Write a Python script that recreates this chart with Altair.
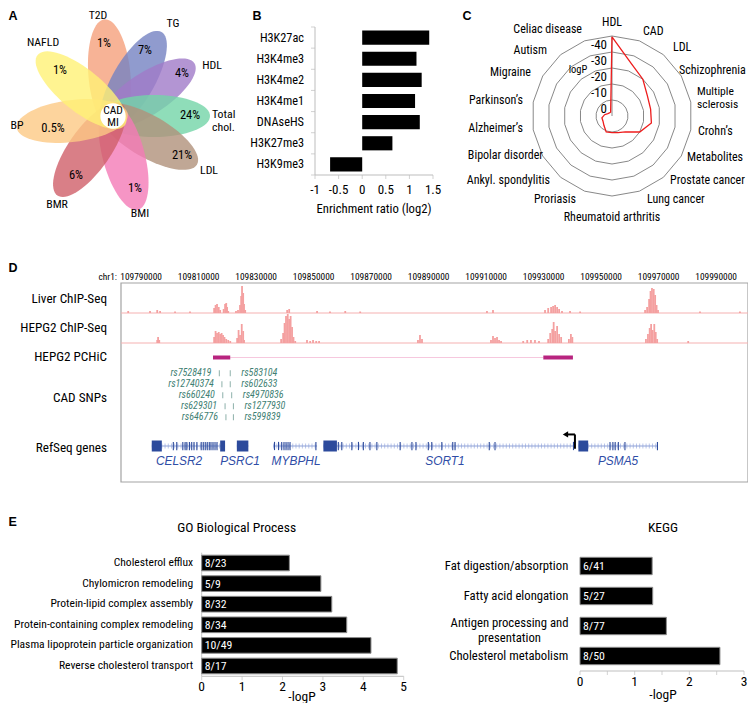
import math
import numpy as np
import pandas as pd
import altair as alt

# ---------------- page mapping (reference pixel -> canvas pixel) ----------------
OX, OY = 8, 8
W, H = 740, 695


def X(v):
    return v - OX


def Y(v):
    return v - OY


FN = "Roboto Condensed, Liberation Sans, Arial, sans-serif"
FR = "Liberation Sans, Arial, Helvetica, sans-serif"

# =============================== DATA ===============================
# --- A: overlap of CAD/MI loci with other traits
A_SETS = ["T2D", "TG", "HDL", "Total\nchol.", "LDL", "BMI", "BMR", "BP", "NAFLD"]
A_SHARE = ["1%", "7%", "4%", "24%", "21%", "1%", "6%", "0.5%", "1%"]
A_COLOR = ["#f5a07c", "#7482c2", "#a07ac8", "#73d5a8", "#b0917b",
           "#f47ab6", "#cf5f69", "#fdc985", "#fff176"]
A_DIR = [355, 30, 57, 90, 120, 165, 215, 263, 309]   # petal direction (deg, clockwise from top)

# --- B: enrichment of chromatin marks
B_MARKS = ["H3K27ac", "H3K4me3", "H3K4me2", "H3K4me1", "DNAseHS", "H3K27me3", "H3K9me3"]
B_RATIO = [1.42, 1.15, 1.26, 1.12, 1.22, 0.64, -0.68]
B_TICKS = [-1, -0.5, 0, 0.5, 1, 1.5]

# --- C: radar of logP per trait
C_CATS = ["HDL", "CAD", "LDL", "Schizophrenia", "Multiple sclerosis", "Crohn’s",
          "Metabolites", "Prostate cancer", "Lung cancer", "Rheumatoid arthritis",
          "Proriasis", "Ankyl. spondylitis", "Bipolar disorder", "Alzheimer’s",
          "Parkinson’s", "Migraine", "Autism", "Celiac disease"]
C_LOGP = [-39.5, -25, -20, -15.5, -14.5, -15, -10, -3, -1, -0.4, -0.6,
          2.2, 3.5, 3.6, 5.3, 7, 7.5, 7.5]
C_RINGS = [0, -10, -20, -30, -40]
C_AXIS_CENTER, C_AXIS_OUTER = 10, -40

# --- D: locus view chr1 (positions in kb)
D_TICKS = [109790, 109810, 109830, 109850, 109870, 109890, 109910, 109930, 109950, 109970, 109990]
LIVER_POS = [109785.5, 109793.1, 109795.6, 109796.6, 109801.8, 109807.0,
             109815.4, 109815.9, 109816.4, 109817.0, 109817.5,
             109818.7, 109819.2, 109819.6, 109819.9, 109820.3,
             109823.0, 109823.7, 109824.4, 109824.8, 109825.1, 109825.5, 109825.8, 109826.2,
             109840.8, 109841.5, 109851.2, 109855.7, 109861.0, 109866.2,
             109910.3, 109912.4,
             109930.5, 109931.6, 109932.6, 109933.3, 109934.0, 109934.7, 109935.4, 109936.4, 109939.2, 109942.7,
             109965.3, 109966.0, 109966.7, 109967.2, 109967.7, 109968.3, 109968.8, 109969.3, 109969.8,
             109984.4, 109998.3]
LIVER_SIG = [2, 2, 3, 2, 1.5, 1.5,
             5, 8, 9, 6, 3,
             4, 9, 10, 6, 2,
             2, 3, 8, 17, 27, 20, 9, 3,
             3, 4, 2, 1.5, 2, 1.5,
             2, 3,
             3, 5, 6, 7, 8, 6, 4, 2, 2, 1.5,
             3, 6, 14, 22, 25, 24, 18, 8, 3,
             1.5, 1.5]
HEPG2_POS = [109795.6, 109795.9, 109796.3,
             109815.4, 109815.9, 109816.4, 109817.0, 109817.5, 109818.0, 109818.5, 109819.0, 109819.6, 109820.3, 109821.0,
             109823.4, 109823.9, 109824.4, 109825.0, 109825.5, 109825.8,
             109838.7, 109839.4, 109839.9, 109840.4, 109841.0, 109841.5, 109842.0, 109842.5, 109843.0, 109843.6,
             109847.7, 109848.8, 109849.8, 109850.9, 109851.9,
             109886.3, 109887.0, 109887.7,
             109911.7, 109912.4, 109913.1, 109913.8, 109914.5, 109915.2,
             109922.9, 109924.3, 109925.6, 109927.0, 109928.4,
             109931.6, 109932.3, 109933.0, 109933.5, 109934.0, 109934.7, 109935.4, 109936.1,
             109938.8, 109939.5, 109940.0,
             109965.6, 109966.3, 109966.9, 109967.4, 109967.9, 109968.5, 109969.0, 109969.5,
             109980.3]
HEPG2_SIG = [3, 6, 3,
             6, 12, 10, 11, 9, 10, 8, 6, 4, 3, 2,
             5, 13, 8, 19, 12, 3,
             4, 10, 20, 27, 29, 24, 27, 16, 6, 2,
             3, 2, 3, 2, 2,
             3, 8, 4,
             3, 7, 5, 6, 3, 2,
             2, 3, 3, 3, 2,
             4, 10, 14, 21, 12, 17, 9, 6,
             4, 9, 6,
             4, 9, 15, 19, 13, 19, 11, 4,
             2]
PCHIC_START = [109815.0, 109929.9]
PCHIC_END = [109821.0, 109940.2]
SNP_LEFT = ["rs7528419", "rs12740374", "rs660240", "rs629301", "rs646776"]
SNP_LEFT_POS = [109817.2, 109818.1, 109818.4, 109819.2, 109819.5]
SNP_RIGHT = ["rs583104", "rs602633", "rs4970836", "rs1277930", "rs599839"]
SNP_RIGHT_POS = [109821.0, 109821.0, 109821.5, 109822.1, 109822.1]
GENE_NAMES = ["CELSR2", "PSRC1", "MYBPHL", "SORT1", "PSMA5"]
GENE_START = [109793.7, 109823.3, 109835.9, 109853.4, 109942.1]
GENE_END = [109819.2, 109827.3, 109851.2, 109940.9, 109969.6]
GENE_LABEL_AT = [109803.2, 109824.4, 109843.9, 109895.7, 109955.9]
BLOCK_START = [109793.7, 109817.5, 109823.3, 109853.4, 109942.1]
BLOCK_END = [109797.2, 109819.2, 109827.3, 109858.1, 109945.5]
EXONS = [109801.2, 109802.4, 109804.5, 109805.3, 109805.9, 109806.8, 109807.6, 109808.4,
         109809.4, 109810.9, 109811.6, 109812.3, 109813.0, 109813.7, 109814.3, 109815.0,
         109815.7, 109816.4,
         109836.4, 109837.8, 109838.9, 109839.7, 109840.4, 109841.1, 109841.8, 109850.8,
         109858.6, 109859.8, 109863.3, 109865.6, 109867.3, 109869.6, 109872.0, 109880.1,
         109884.2, 109885.6, 109889.9, 109891.1, 109894.6, 109898.4, 109899.2, 109911.1,
         109913.1, 109940.4,
         109953.1, 109954.1, 109954.9, 109956.0, 109958.3, 109969.6]
SORT1_TSS = 109940.9

# --- E: enrichment
GO_TERMS = ["Cholesterol efflux", "Chylomicron remodeling", "Protein-lipid complex assembly",
            "Protein-containing complex remodeling", "Plasma lipoprotein particle organization",
            "Reverse cholesterol transport"]
GO_LOGP = [2.17, 2.95, 3.22, 3.59, 4.19, 4.84]
GO_COUNT = ["8/23", "5/9", "8/32", "8/34", "10/49", "8/17"]
GO_TICKS = [0, 1, 2, 3, 4, 5]
KEGG_TERMS = ["Fat digestion/absorption", "Fatty acid elongation",
              "Antigen processing and\npresentation", "Cholesterol metabolism"]
KEGG_LOGP = [1.32, 1.33, 1.58, 2.56]
KEGG_COUNT = ["6/41", "5/27", "8/77", "8/50"]
KEGG_TICKS = [0, 0.5, 1, 1.5, 2, 2.5, 3]
KEGG_LABELED = [0, 1, 2, 3]

# =============================== HELPERS ===============================
L = []


def lin(dom, a, b):
    return alt.Scale(domain=list(dom), range=[a, b], nice=False, zero=False)


def text_layer(rows, size=12, align="center", font=FN, weight="normal", color="black",
               style="normal", lh=None, baseline="middle"):
    df = pd.DataFrame(rows, columns=["t", "px", "py"])
    df["px"] = df["px"] - OX
    df["py"] = df["py"] - OY
    kw = dict(align=align, baseline=baseline, font=font, fontSize=size, fontWeight=weight,
              color=color, fontStyle=style, lineBreak="\n")
    if lh:
        kw["lineHeight"] = lh
    return alt.Chart(df).mark_text(**kw).encode(
        x=alt.X("px:Q", scale=None), y=alt.Y("py:Q", scale=None), text="t:N")


# panel letters
L.append(text_layer([["A", 8.5, 15.5], ["D", 8.5, 268], ["E", 8.5, 522]], size=12.5, align="left", font=FR, weight="bold"))
L.append(text_layer([["B", 257, 15.5], ["C", 467, 15.5]], size=12.5, font=FR, weight="bold"))

# =============================== PANEL A ===============================
FX, FY = 113, 116
a_xs = lin([-120, 120], X(FX - 120), X(FX + 120))
a_ys = lin([-120, 120], Y(FY + 120), Y(FY - 120))


def AX(f):
    return alt.X(f, type="quantitative", scale=a_xs, axis=None)


def AY(f):
    return alt.Y(f, type="quantitative", scale=a_ys, axis=None)


NPT = 72
PETAL = "M" + "L".join(
    f"{math.cos(2 * math.pi * i / NPT):.4f},{0.375 * math.sin(2 * math.pi * i / NPT):.4f}"
    for i in range(NPT)) + "Z"
petals = pd.DataFrame({"set": A_SETS, "color": A_COLOR, "dir": A_DIR})
petals["cx"] = 41 * np.sin(np.radians(petals["dir"]))
petals["cy"] = 41 * np.cos(np.radians(petals["dir"]))
petals["rot"] = (petals["dir"] - 90) % 360
L.append(alt.Chart(petals).mark_point(shape=PETAL, filled=True, size=12544, opacity=0.8,
                                       strokeWidth=0).encode(
    x=AX("cx"), y=AY("cy"), color=alt.Color("color:N", scale=None),
    angle=alt.Angle("rot:Q", scale=None)))
L.append(alt.Chart(pd.DataFrame({"x": [0], "y": [0]})).mark_point(
    shape="circle", filled=True, color="white", size=640, opacity=1).encode(x=AX("x"), y=AY("y")))
L.append(alt.Chart(pd.DataFrame({"x": [0, 0], "y": [5.5, -7], "t": ["CAD", "MI"]})).mark_text(
    font=FN, fontSize=11.5).encode(x=AX("x"), y=AY("y"), text="t:N"))

A_SHARE_XY = [(-9, 73), (32, 66), (69, 43), (77, 1), (69, -39), (22, -72), (-37, -59), (-60, -12), (-53, 46)]
A_NAME_XY = [(-15, 101), (60, 93), (99, 51), (99, 2), (96, -54), (27, -97), (-56, -88), (-96, -9), (-70, 74)]
sh = pd.DataFrame({"t": A_SHARE, "x": [p[0] for p in A_SHARE_XY], "y": [p[1] for p in A_SHARE_XY]})
L.append(alt.Chart(sh).mark_text(font=FN, fontSize=12.5).encode(x=AX("x"), y=AY("y"), text="t:N"))
nm = pd.DataFrame({"t": A_SETS, "x": [p[0] for p in A_NAME_XY], "y": [p[1] for p in A_NAME_XY]})
L.append(alt.Chart(nm[nm.t != "Total\nchol."]).mark_text(font=FN, fontSize=11.8).encode(
    x=AX("x"), y=AY("y"), text="t:N"))
L.append(alt.Chart(nm[nm.t == "Total\nchol."]).mark_text(font=FN, fontSize=11.8, align="left",
                                                         lineBreak="\n", lineHeight=13).encode(
    x=AX("x"), y=AY("y"), text="t:N"))

# =============================== PANEL B ===============================
b_x = lin([-1, 1.5], X(315), X(433))
b_band = alt.Scale(domain=B_MARKS, range=[Y(27), Y(175)], paddingInner=0.33, paddingOuter=0.165)
b_q = lin([0, 7], Y(27), Y(175))
bdf = pd.DataFrame({"mark": B_MARKS, "ratio": B_RATIO, "zero": 0.0, "left": -1.0})
L.append(alt.Chart(bdf).mark_bar(color="black").encode(
    x=alt.X("ratio:Q", scale=b_x, axis=None), x2="zero",
    y=alt.Y("mark:N", sort=B_MARKS, scale=b_band, axis=None)))
L.append(alt.Chart(bdf).mark_text(align="right", dx=-11, font=FN, fontSize=12.3).encode(
    x=alt.X("left:Q", scale=b_x, axis=None),
    y=alt.Y("mark:N", sort=B_MARKS, scale=b_band, axis=None), text="mark:N"))
L.append(alt.Chart(pd.DataFrame({"x": [-1], "y0": [0], "y1": [7]})).mark_rule(color="#bdbdbd").encode(
    x=alt.X("x:Q", scale=b_x, axis=None), y=alt.Y("y0:Q", scale=b_q, axis=None), y2="y1"))
L.append(alt.Chart(pd.DataFrame({"x0": [-1], "x1": [1.5], "y": [7]})).mark_rule(color="#bdbdbd").encode(
    x=alt.X("x0:Q", scale=b_x, axis=None), x2="x1", y=alt.Y("y:Q", scale=b_q, axis=None)))
bt = pd.DataFrame({"v": B_TICKS, "y": 7, "t": [("%g" % v) for v in B_TICKS]})
L.append(alt.Chart(bt).mark_tick(orient="vertical", size=4, thickness=1, yOffset=2, color="#bdbdbd").encode(
    x=alt.X("v:Q", scale=b_x, axis=None), y=alt.Y("y:Q", scale=b_q, axis=None)))
L.append(alt.Chart(bt).mark_text(dy=15, font=FN, fontSize=13).encode(
    x=alt.X("v:Q", scale=b_x, axis=None), y=alt.Y("y:Q", scale=b_q, axis=None), text="t:N"))
L.append(alt.Chart(pd.DataFrame({"x": [-1] * 8, "y": list(range(8))})).mark_tick(
    orient="horizontal", size=4, thickness=1, xOffset=-2, color="#bdbdbd").encode(
    x=alt.X("x:Q", scale=b_x, axis=None), y=alt.Y("y:Q", scale=b_q, axis=None)))
L.append(alt.Chart(pd.DataFrame({"x": [0.25], "y": [7], "t": ["Enrichment ratio (log2)"]})).mark_text(
    dy=34, font=FN, fontSize=12.7).encode(
    x=alt.X("x:Q", scale=b_x, axis=None), y=alt.Y("y:Q", scale=b_q, axis=None), text="t:N"))

# =============================== PANEL C ===============================
CX0, CY0 = 612, 116
R_PX = 80
c_xs = lin([-120, 120], X(CX0 - 120), X(CX0 + 120))
c_ys = lin([-120, 120], Y(CY0 + 120), Y(CY0 - 120))


def rad(v):
    return (C_AXIS_CENTER - v) / (C_AXIS_CENTER - C_AXIS_OUTER) * R_PX


def CXe(f):
    return alt.X(f, type="quantitative", scale=c_xs, axis=None)


def CYe(f):
    return alt.Y(f, type="quantitative", scale=c_ys, axis=None)


nC = len(C_CATS)
ring_rows = []
for v in C_RINGS:
    r = rad(v)
    for k in range(nC + 1):
        a = math.radians(360.0 * (k % nC) / nC)
        ring_rows.append({"ring": str(v), "idx": k, "x": r * math.sin(a), "y": r * math.cos(a)})
L.append(alt.Chart(pd.DataFrame(ring_rows)).mark_line(color="#7a7a7a", strokeWidth=0.9).encode(
    x=CXe("x"), y=CYe("y"), detail="ring:N", order="idx:Q"))
L.append(alt.Chart(pd.DataFrame({"x": [0], "y0": [0], "y1": [rad(C_AXIS_OUTER)]})).mark_rule(
    color="#8a8a8a", strokeWidth=1).encode(x=CXe("x"), y=CYe("y0"), y2="y1"))
poly = []
for k in range(nC + 1):
    i = k % nC
    a = math.radians(360.0 * i / nC)
    r = rad(C_LOGP[i])
    poly.append({"idx": k, "x": r * math.sin(a), "y": r * math.cos(a)})
L.append(alt.Chart(pd.DataFrame(poly)).mark_line(color="#ee1c1c", strokeWidth=1.3).encode(
    x=CXe("x"), y=CYe("y"), order="idx:Q"))
rl = pd.DataFrame({"x": 0.0, "y": [rad(v) for v in C_RINGS], "t": [str(v) for v in C_RINGS]})
L.append(alt.Chart(rl).mark_text(align="right", dx=-5, dy=9, font=FN, fontSize=13).encode(
    x=CXe("x"), y=CYe("y"), text="t:N"))
L.append(text_layer([["logP", 578, 70]], size=10.5))
L.append(text_layer([["HDL", 612, 22], ["Rheumatoid arthritis", 612, 217]], size=12))
L.append(text_layer([["CAD", 643, 31], ["LDL", 673, 47], ["Schizophrenia", 679, 70],
                     ["Crohn’s", 698, 131], ["Metabolites", 687, 157],
                     ["Prostate cancer", 670, 180], ["Lung cancer", 647, 199]], size=12, align="left"))
L.append(text_layer([["Multiple", 697, 92], ["sclerosis", 697, 105]], size=11.6, align="left"))
L.append(text_layer([["Proriasis", 576, 199], ["Ankyl. spondylitis", 550, 180], ["Bipolar disorder", 543, 155],
                     ["Alzheimer’s", 523, 128], ["Parkinson’s", 523, 100], ["Migraine", 531, 72],
                     ["Autism", 547, 50], ["Celiac disease", 582, 29]], size=12, align="right"))

# =============================== PANEL D ===============================
D_DOM = [109783.0, 110001.1]
d_x = lin(D_DOM, X(121), X(748))


def DX(f):
    return alt.X(f, type="quantitative", scale=d_x, axis=None)


box_y = lin([0, 1], Y(482), Y(283))
L.append(alt.Chart(pd.DataFrame({"x0": [D_DOM[0]], "x1": [D_DOM[1]], "y0": [0], "y1": [1]})).mark_rect(
    fill="white", fillOpacity=0, stroke="#a3a3a3", strokeWidth=1.2).encode(
    x=DX("x0"), x2="x1", y=alt.Y("y0:Q", scale=box_y, axis=None), y2="y1"))
# top coordinate labels
L.append(alt.Chart(pd.DataFrame({"p": D_TICKS, "t": [str(int(p * 1000)) for p in D_TICKS]})).mark_text(
    font=FN, fontSize=9.4).encode(x=DX("p"), y=alt.value(Y(277)), text="t:N"))
L.append(text_layer([["chr1:", 117, 277]], size=9.4, align="right"))
# track labels
L.append(text_layer([["Liver ChIP-Seq", 107, 299], ["HEPG2 ChIP-Seq", 107, 328], ["HEPG2 PCHiC", 107, 357],
                     ["CAD SNPs", 107, 398], ["RefSeq genes", 107, 448]], size=13.2, align="right"))
# ChIP-seq tracks
for pos, sig, base in [(LIVER_POS, LIVER_SIG, 313), (HEPG2_POS, HEPG2_SIG, 343)]:
    ts = lin([0, 29], Y(base), Y(base - 29))
    L.append(alt.Chart(pd.DataFrame({"x0": [D_DOM[0]], "x1": [D_DOM[1]], "y": [0]})).mark_rule(
        color="#f5b1b1", strokeWidth=1).encode(x=DX("x0"), x2="x1", y=alt.Y("y:Q", scale=ts, axis=None)))
    L.append(alt.Chart(pd.DataFrame({"p": pos, "s": sig, "b": 0.0})).mark_rule(
        color="#f4a0a0", strokeWidth=1.8).encode(x=DX("p"), y=alt.Y("s:Q", scale=ts, axis=None), y2="b"))
# PCHiC
pc_y = lin([-1, 1], Y(359.5), Y(355.5))
L.append(alt.Chart(pd.DataFrame({"x0": [PCHIC_END[0]], "x1": [PCHIC_START[1]], "y": [0]})).mark_rule(
    color="#f6c8de", strokeWidth=1).encode(x=DX("x0"), x2="x1", y=alt.Y("y:Q", scale=pc_y, axis=None)))
L.append(alt.Chart(pd.DataFrame({"x0": PCHIC_START, "x1": PCHIC_END, "y0": -1, "y1": 1})).mark_rect(
    color="#b8247f").encode(x=DX("x0"), x2="x1", y=alt.Y("y0:Q", scale=pc_y, axis=None), y2="y1"))
# SNPs
snp_y = alt.Scale(type="point", domain=[0, 1, 2, 3, 4], range=[Y(373.3), Y(417.3)], padding=0)
sl = pd.DataFrame({"row": range(5), "p": SNP_LEFT_POS, "t": SNP_LEFT})
sr = pd.DataFrame({"row": range(5), "p": SNP_RIGHT_POS, "t": SNP_RIGHT})
for df in (sl, sr):
    L.append(alt.Chart(df).mark_tick(orient="vertical", size=6, thickness=1, color="#5d8f86").encode(
        x=DX("p"), y=alt.Y("row:O", scale=snp_y, axis=None)))
L.append(alt.Chart(sl).mark_text(align="right", dx=-8, font=FN, fontSize=10, fontStyle="italic",
                                 color="#3f7f74").encode(
    x=DX("p"), y=alt.Y("row:O", scale=snp_y, axis=None), text="t:N"))
L.append(alt.Chart(sr).mark_text(align="left", dx=11, font=FN, fontSize=10, fontStyle="italic",
                                 color="#3f7f74").encode(
    x=DX("p"), y=alt.Y("row:O", scale=snp_y, axis=None), text="t:N"))
# genes
g_y = lin([-1, 1], Y(451.5), Y(440.5))
GY = alt.Y("y:Q", scale=g_y, axis=None)
gdf = pd.DataFrame({"g": GENE_NAMES, "x0": GENE_START, "x1": GENE_END, "y": 0.0, "lab": GENE_LABEL_AT})
L.append(alt.Chart(gdf).mark_rule(color="#b9c5ea", strokeWidth=5, strokeDash=[1, 2.2]).encode(
    x=DX("x0"), x2="x1", y=GY))
L.append(alt.Chart(gdf).mark_rule(color="#8ea1d6", strokeWidth=1).encode(x=DX("x0"), x2="x1", y=GY))
L.append(alt.Chart(pd.DataFrame({"x0": BLOCK_START, "x1": BLOCK_END, "y": -1.0, "y1": 1.0})).mark_rect(
    color="#2c4a9c").encode(x=DX("x0"), x2="x1", y=GY, y2="y1"))
L.append(alt.Chart(pd.DataFrame({"p": EXONS, "y": -0.75, "y1": 0.75})).mark_rule(
    color="#2c4a9c", strokeWidth=1.1).encode(x=DX("p"), y=GY, y2="y1"))
L.append(alt.Chart(gdf).mark_text(font=FR, fontSize=11.9, fontStyle="italic", color="#2f4da6").encode(
    x=DX("lab"), y=alt.value(Y(461)), text="g:N"))
# TSS arrow of SORT1
L.append(alt.Chart(pd.DataFrame({"p": [SORT1_TSS], "y": [-0.5], "y1": [2.1]})).mark_rule(
    color="black", strokeWidth=2).encode(x=DX("p"), y=GY, y2="y1"))
L.append(alt.Chart(pd.DataFrame({"p": [SORT1_TSS], "p0": [SORT1_TSS - 2.6], "y": [2.1]})).mark_rule(
    color="black", strokeWidth=2).encode(x=DX("p0"), x2="p", y=GY))
L.append(alt.Chart(pd.DataFrame({"p": [SORT1_TSS - 3.3], "y": [2.1]})).mark_point(
    shape="triangle-left", filled=True, color="black", size=38, opacity=1).encode(x=DX("p"), y=GY))

# =============================== PANEL E ===============================
# GO
go_x = lin([0, 5], X(201.7), X(403.7))
go_band = alt.Scale(domain=GO_TERMS, range=[Y(552.7), Y(676.3)], paddingInner=0.24, paddingOuter=0.12)
go_q = lin([0, 6], Y(552.7), Y(676.3))
godf = pd.DataFrame({"term": GO_TERMS, "v": GO_LOGP, "n": GO_COUNT, "zero": 0.0})
GOY = alt.Y("term:N", sort=GO_TERMS, scale=go_band, axis=None)
L.append(alt.Chart(pd.DataFrame({"x": [0], "y0": [0], "y1": [6]})).mark_rule(color="#c8c8c8").encode(
    x=alt.X("x:Q", scale=go_x, axis=None), y=alt.Y("y0:Q", scale=go_q, axis=None), y2="y1"))
L.append(alt.Chart(godf).mark_bar(color="black", stroke="#8c8c8c", strokeWidth=1).encode(
    x=alt.X("v:Q", scale=go_x, axis=None), x2="zero", y=GOY))
L.append(alt.Chart(godf).mark_text(align="left", dx=3, font=FN, fontSize=11.8, color="white").encode(
    x=alt.X("zero:Q", scale=go_x, axis=None), y=GOY, text="n:N"))
L.append(alt.Chart(godf).mark_text(align="right", dx=-8.5, font=FN, fontSize=11.6).encode(
    x=alt.X("zero:Q", scale=go_x, axis=None), y=GOY, text="term:N"))
L.append(alt.Chart(pd.DataFrame({"x0": [0], "x1": [5], "y": [6]})).mark_rule(color="#bfbfbf").encode(
    x=alt.X("x0:Q", scale=go_x, axis=None), x2="x1", y=alt.Y("y:Q", scale=go_q, axis=None)))
gt = pd.DataFrame({"v": GO_TICKS, "y": 6, "t": [str(v) for v in GO_TICKS]})
L.append(alt.Chart(gt).mark_tick(orient="vertical", size=4, thickness=1, yOffset=2, color="#bfbfbf").encode(
    x=alt.X("v:Q", scale=go_x, axis=None), y=alt.Y("y:Q", scale=go_q, axis=None)))
L.append(alt.Chart(gt).mark_text(dy=10.5, font=FN, fontSize=13.5).encode(
    x=alt.X("v:Q", scale=go_x, axis=None), y=alt.Y("y:Q", scale=go_q, axis=None), text="t:N"))
L.append(text_layer([["GO Biological Process", 236.7, 528]], size=13.6))
L.append(text_layer([["-logP", 302, 701]], size=13.5, baseline="alphabetic"))

# KEGG
kg_x = lin([0, 3], X(580), X(744))
kg_band = alt.Scale(domain=KEGG_TERMS, range=[Y(551), Y(671)], paddingInner=0.42, paddingOuter=0.21)
kg_q = lin([0, 4], Y(551), Y(671))
kgdf = pd.DataFrame({"term": KEGG_TERMS, "v": KEGG_LOGP, "n": KEGG_COUNT, "zero": 0.0})
KGY = alt.Y("term:N", sort=KEGG_TERMS, scale=kg_band, axis=None)
L.append(alt.Chart(kgdf).mark_bar(color="black", stroke="#8c8c8c", strokeWidth=1).encode(
    x=alt.X("v:Q", scale=kg_x, axis=None), x2="zero", y=KGY))
L.append(alt.Chart(kgdf).mark_text(align="left", dx=3, font=FN, fontSize=11.8, color="white").encode(
    x=alt.X("zero:Q", scale=kg_x, axis=None), y=KGY, text="n:N"))
one = kgdf[~kgdf.term.str.contains("\n")]
two = kgdf[kgdf.term.str.contains("\n")]
L.append(alt.Chart(one).mark_text(align="right", dx=-11.7, font=FN, fontSize=12.7).encode(
    x=alt.X("zero:Q", scale=kg_x, axis=None), y=KGY, text="term:N"))
L.append(alt.Chart(two).mark_text(align="center", dx=-70.5, dy=-2.7, font=FN, fontSize=12.7,
                                  lineBreak="\n", lineHeight=14.7).encode(
    x=alt.X("zero:Q", scale=kg_x, axis=None), y=KGY, text="term:N"))
L.append(alt.Chart(pd.DataFrame({"x0": [0], "x1": [3], "y": [4]})).mark_rule(color="#bfbfbf").encode(
    x=alt.X("x0:Q", scale=kg_x, axis=None), x2="x1", y=alt.Y("y:Q", scale=kg_q, axis=None)))
kt = pd.DataFrame({"v": KEGG_TICKS, "y": 4})
L.append(alt.Chart(kt).mark_tick(orient="vertical", size=4, thickness=1, yOffset=2, color="#bfbfbf").encode(
    x=alt.X("v:Q", scale=kg_x, axis=None), y=alt.Y("y:Q", scale=kg_q, axis=None)))
kl = pd.DataFrame({"v": KEGG_LABELED, "y": 4, "t": [str(v) for v in KEGG_LABELED]})
L.append(alt.Chart(kl).mark_text(dy=11, font=FN, fontSize=13.5).encode(
    x=alt.X("v:Q", scale=kg_x, axis=None), y=alt.Y("y:Q", scale=kg_q, axis=None), text="t:N"))
L.append(text_layer([["KEGG", 663, 528]], size=13.6))
L.append(text_layer([["-logP", 663, 699]], size=13.5, baseline="alphabetic"))

# =============================== ASSEMBLE ===============================
chart = alt.layer(*L).resolve_scale(
    x="independent", y="independent", color="independent", angle="independent"
).properties(width=W, height=H, padding=0, autosize="none").configure_view(stroke=None)

chart.save("out.html", embed_options={"renderer": "svg", "actions": False})
